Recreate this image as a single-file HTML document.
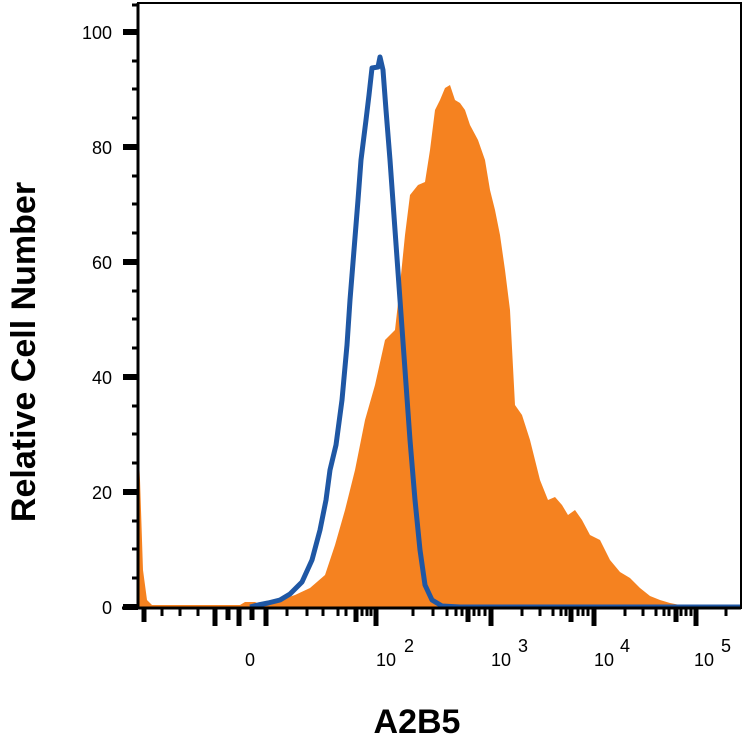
<!DOCTYPE html>
<html><head><style>body{margin:0;background:#fff}svg{display:block}</style></head><body>
<svg width="742" height="746" xmlns="http://www.w3.org/2000/svg" font-family="'Liberation Sans',sans-serif">
<polygon fill="#f58220" points="138,440 140,480 143,570 147,600 152,605 240,605 245,602 255,602 262,605 268,603 280,600 295,595 310,588 325,575 335,545 345,510 355,470 365,420 375,385 385,340 395,330 400,285 405,235 410,195 418,185 425,182 430,150 435,110 440,100 445,88 450,85 455,100 460,103 465,110 470,125 478,140 485,160 490,190 495,210 500,235 505,270 510,310 515,405 522,415 530,440 540,480 548,500 555,497 562,505 568,515 575,510 582,520 590,535 600,540 610,560 620,572 630,578 640,588 650,596 660,600 670,603 685,606 690,608 138,608"/>
<polyline fill="none" stroke="#1f57a4" stroke-width="5" stroke-linejoin="round" points="250,607 258,605 268,603 280,600 290,594 302,582 312,560 320,530 326,500 330,470 336,445 342,400 347,345 350,300 354,250 358,200 361,160 366,120 369,95 372,68 378,67 380,57 383,70 386,110 390,160 395,230 400,300 405,370 410,440 415,500 420,550 425,585 432,600 442,606 460,607 741,607"/>
<rect x="138" y="3" width="603" height="605" fill="none" stroke="#000" stroke-width="2"/>
<line x1="138" y1="3" x2="138" y2="608" stroke="#000" stroke-width="3"/>
<line x1="122" y1="608" x2="741" y2="608" stroke="#000" stroke-width="3"/>
<g stroke="#000">
<g stroke-width="6">
<line x1="123" y1="32" x2="138" y2="32"/><line x1="123" y1="147" x2="138" y2="147"/><line x1="123" y1="262" x2="138" y2="262"/><line x1="123" y1="377" x2="138" y2="377"/><line x1="123" y1="492" x2="138" y2="492"/><line x1="123" y1="607" x2="138" y2="607"/>
</g>
<g stroke-width="3">
<line x1="132" y1="61" x2="138" y2="61"/><line x1="132" y1="89" x2="138" y2="89"/><line x1="132" y1="118" x2="138" y2="118"/>
<line x1="132" y1="176" x2="138" y2="176"/><line x1="132" y1="204" x2="138" y2="204"/><line x1="132" y1="233" x2="138" y2="233"/>
<line x1="132" y1="291" x2="138" y2="291"/><line x1="132" y1="319" x2="138" y2="319"/><line x1="132" y1="348" x2="138" y2="348"/>
<line x1="132" y1="406" x2="138" y2="406"/><line x1="132" y1="434" x2="138" y2="434"/><line x1="132" y1="463" x2="138" y2="463"/>
<line x1="132" y1="521" x2="138" y2="521"/><line x1="132" y1="549" x2="138" y2="549"/><line x1="132" y1="578" x2="138" y2="578"/>
<line x1="132" y1="5" x2="138" y2="5"/>
</g>
<g stroke-width="5">
<line x1="144" y1="608" x2="144" y2="622"/><line x1="215" y1="608" x2="215" y2="626"/><line x1="228" y1="608" x2="228" y2="620"/><line x1="239" y1="608" x2="239" y2="626"/><line x1="252" y1="608" x2="252" y2="620"/><line x1="266" y1="608" x2="266" y2="626"/>
<line x1="376" y1="608" x2="376" y2="626"/><line x1="491" y1="608" x2="491" y2="626"/><line x1="594" y1="608" x2="594" y2="626"/><line x1="696" y1="608" x2="696" y2="626"/>
<line x1="356" y1="608" x2="356" y2="622"/><line x1="468" y1="608" x2="468" y2="622"/><line x1="571" y1="608" x2="571" y2="622"/><line x1="676" y1="608" x2="676" y2="622"/>
</g>
<g stroke-width="3">
<line x1="162" y1="608" x2="162" y2="616"/><line x1="180" y1="608" x2="180" y2="616"/><line x1="198" y1="608" x2="198" y2="616"/>
<line x1="287" y1="608" x2="287" y2="616"/><line x1="307" y1="608" x2="307" y2="616"/><line x1="323" y1="608" x2="323" y2="616"/><line x1="338" y1="608" x2="338" y2="616"/><line x1="346" y1="608" x2="346" y2="616"/><line x1="362" y1="608" x2="362" y2="616"/><line x1="367" y1="608" x2="367" y2="616"/><line x1="371" y1="608" x2="371" y2="616"/>
<line x1="413" y1="608" x2="413" y2="616"/><line x1="433" y1="608" x2="433" y2="616"/><line x1="447" y1="608" x2="447" y2="616"/><line x1="456" y1="608" x2="456" y2="616"/><line x1="462" y1="608" x2="462" y2="616"/><line x1="474" y1="608" x2="474" y2="616"/><line x1="479" y1="608" x2="479" y2="616"/><line x1="485" y1="608" x2="485" y2="616"/>
<line x1="522" y1="608" x2="522" y2="616"/><line x1="540" y1="608" x2="540" y2="616"/><line x1="553" y1="608" x2="553" y2="616"/><line x1="561" y1="608" x2="561" y2="616"/><line x1="566" y1="608" x2="566" y2="616"/><line x1="578" y1="608" x2="578" y2="616"/><line x1="583" y1="608" x2="583" y2="616"/><line x1="588" y1="608" x2="588" y2="616"/>
<line x1="625" y1="608" x2="625" y2="616"/><line x1="643" y1="608" x2="643" y2="616"/><line x1="656" y1="608" x2="656" y2="616"/><line x1="664" y1="608" x2="664" y2="616"/><line x1="669" y1="608" x2="669" y2="616"/><line x1="681" y1="608" x2="681" y2="616"/><line x1="686" y1="608" x2="686" y2="616"/><line x1="691" y1="608" x2="691" y2="616"/><line x1="726" y1="608" x2="726" y2="616"/>
</g>
</g>
<g font-size="18" fill="#000" text-anchor="end">
<text x="112" y="39">100</text><text x="112" y="154">80</text><text x="112" y="269">60</text><text x="112" y="384">40</text><text x="112" y="499">20</text><text x="112" y="614">0</text>
</g>
<g font-size="18" fill="#000">
<text x="245" y="666">0</text>
<text x="376" y="666">10</text><text x="404" y="652">2</text>
<text x="491" y="666">10</text><text x="518" y="652">3</text>
<text x="594" y="666">10</text><text x="620" y="652">4</text>
<text x="694" y="666">10</text><text x="721" y="652">5</text>
</g>
<text x="417" y="733" font-size="34" font-weight="bold" text-anchor="middle">A2B5</text>
<text transform="translate(35,352) rotate(-90)" font-size="34" font-weight="bold" text-anchor="middle">Relative Cell Number</text>
</svg>
</body></html>
